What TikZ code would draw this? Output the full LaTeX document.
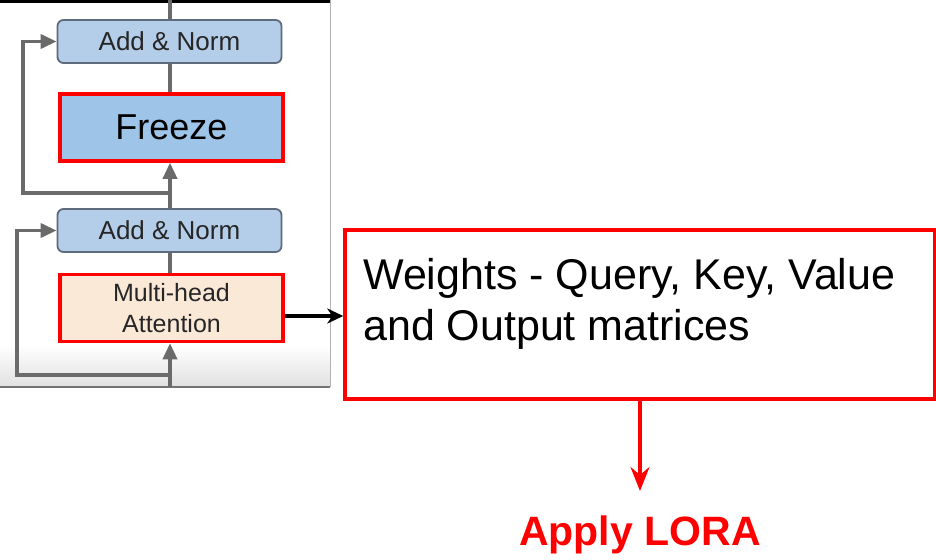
\documentclass[tikz,border=0pt]{standalone}
\usepackage{fontspec}
\setmainfont{Liberation Sans}
\usetikzlibrary{arrows.meta}
\definecolor{anfill}{HTML}{B4CDE9}
\definecolor{anborder}{HTML}{5E6B7C}
\definecolor{fzfill}{HTML}{9EC4E8}
\definecolor{mhfill}{HTML}{FBE9D8}
\definecolor{lgray}{HTML}{6A6A6A}
\definecolor{redc}{HTML}{FF0000}
\tikzset{
  addnorm/.style={draw=anborder, line width=1.8pt, fill=anfill, rounded corners=6pt,
    minimum width=224pt, minimum height=43pt, inner sep=0pt, font=\fontsize{26}{30}\selectfont, text=black!85},
  freezebox/.style={draw=redc, line width=3.5pt, fill=fzfill,
    minimum width=223pt, minimum height=67pt, inner sep=0pt, font=\fontsize{36}{40}\selectfont},
  mhabox/.style={draw=redc, line width=3.5pt, fill=mhfill,
    minimum width=223pt, minimum height=67pt, inner sep=0pt, align=center, font=\fontsize{25}{31}\selectfont, text=black!85},
  gline/.style={draw=lgray, line width=3.5pt},
  gtip/.style={-{Triangle[length=16pt,width=14pt]}},
  garrow/.style={gline, gtip},
  wbox/.style={draw=redc, line width=3.5pt, minimum width=590pt, minimum height=169pt, inner sep=0pt},
  wtext/.style={inner sep=0pt, align=left, font=\fontsize{43}{51}\selectfont},
  lora/.style={inner sep=0pt, text=redc, font=\bfseries\fontsize{41}{45}\selectfont},
  barrow/.style={draw=black, line width=3.2pt, -{Stealth[length=16pt,width=15pt,inset=5pt]}},
  rarrow/.style={draw=redc, line width=3.2pt, -{Stealth[length=24pt,width=19pt,inset=8pt]}}
}
\begin{document}
\begin{tikzpicture}[x=1pt,y=-1pt]
\useasboundingbox (0,0) rectangle (936,559);
% screenshot panel background
\fill[white] (0,0) rectangle (330,387);
\shade[top color=white, bottom color=black!12] (0,345) rectangle (330,387);
\draw[black!55, line width=1.5pt] (0,387) -- (330,387);
\draw[black!30, line width=1pt] (330,0) -- (330,387);
\fill[black] (0,0) rectangle (330,3);
% nodes
\coordinate (top) at (170,0);
\node[addnorm] (an1) at (169.5,41.5) {Add \& Norm};
\node[freezebox] (fz) at (171.5,127.5) {Freeze};
\node[addnorm] (an2) at (169.5,230.5) {Add \& Norm};
\node[mhabox] (mha) at (171.5,308) {Multi-head\\Attention};
\coordinate (bot) at (170,387);
\coordinate (b1) at (170,193);
\coordinate (r1) at (23,193);
\coordinate (b2) at (170,375);
\coordinate (r2) at (17,375);
% lines in upper block
\draw[gline] (top) -- (top |- an1.north);
\draw[gline] (an1.south -| top) -- (top |- fz.north);
\draw[garrow] (an2.north -| top) -- (top |- fz.south);
\draw[garrow] (b1) -- (r1) |- (an1.west);
% lower block
\draw[gline] (an2.south -| top) -- (top |- mha.north);
\draw[garrow] (bot) -- (top |- mha.south);
\draw[garrow] (b2) -- (r2) |- (an2.west);
% right side
\node[wbox] (w) at (640,314.5) {};
\node[wtext, anchor=north west] (wt) at (363,258) {Weights - Query, Key, Value\\and Output matrices};
\draw[barrow] (mha.east |- 0,316) -- (w.west |- 0,316);
\node[lora] (lora) at (640,535) {Apply LORA};
\draw[rarrow] (w.south) -- (640,491);
\end{tikzpicture}
\end{document}
